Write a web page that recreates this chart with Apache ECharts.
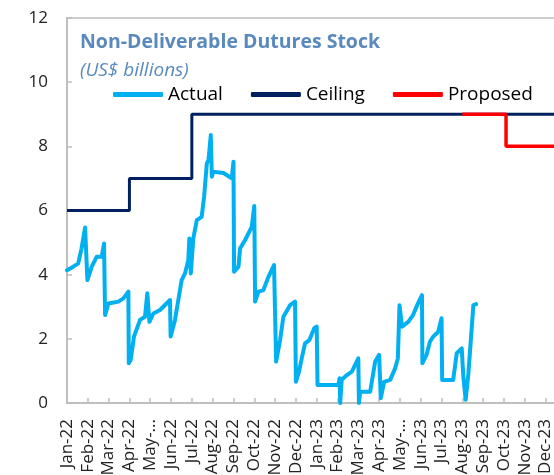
<!DOCTYPE html>
<html>
<head>
<meta charset="utf-8">
<title>Non-Deliverable Futures Stock</title>
<script src="https://cdn.jsdelivr.net/npm/echarts@6/dist/echarts.min.js"></script>
<style>
  html, body { margin: 0; padding: 0; background: #fff; }
  #chart { width: 554px; height: 475px; }
</style>
</head>
<body>
<div id="chart"></div>
<script>
// month tick labels, one per month starting Jan-22 (index 0)
var monthLabels = ['Jan-22', 'Feb-22', 'Mar-22', 'Apr-22', 'May-...', 'Jun-22', 'Jul-22', 'Aug-22',
  'Sep-22', 'Oct-22', 'Nov-22', 'Dec-22', 'Jan-23', 'Feb-23', 'Mar-23', 'Apr-23', 'May-...',
  'Jun-23', 'Jul-23', 'Aug-23', 'Sep-23', 'Oct-23', 'Nov-23', 'Dec-23'];

// actual stock, x in months since Jan-22
var actualMonths = [0.00, 0.30, 0.54, 0.70, 0.87, 0.98, 1.19, 1.43, 1.67, 1.78, 1.83, 1.99, 2.47, 2.71,
  2.95, 2.97, 3.06, 3.22, 3.51, 3.75, 3.86, 3.96, 4.15, 4.47, 4.95, 4.98, 5.19, 5.35, 5.51, 5.67,
  5.83, 5.88, 5.95, 6.07, 6.24, 6.47, 6.59, 6.72, 6.80, 6.91, 6.96, 7.03, 7.52, 7.92, 8.00, 8.03,
  8.24, 8.32, 8.56, 8.88, 9.00, 9.04, 9.20, 9.44, 9.68, 9.95, 10.05, 10.24, 10.40, 10.72, 10.96,
  11.00, 11.15, 11.28, 11.44, 11.65, 11.88, 12.00, 12.04, 13.04, 13.10, 13.13, 13.20, 13.45, 13.69,
  14.00, 14.03, 14.09, 14.57, 14.81, 15.00, 15.08, 15.24, 15.53, 15.77, 15.90, 15.98, 16.10, 16.40,
  16.63, 16.83, 17.06, 17.08, 17.28, 17.44, 17.60, 17.84, 18.00, 18.03, 18.56, 18.73, 18.97, 19.05,
  19.16, 19.29, 19.53, 19.66];
var actualValues = [4.14, 4.25, 4.35, 4.82, 5.47, 3.83, 4.25, 4.56, 4.56, 4.97, 2.74, 3.10, 3.16, 3.26,
  3.47, 1.24, 1.34, 2.07, 2.59, 2.69, 3.42, 2.53, 2.79, 2.90, 3.21, 2.07, 2.59, 3.21, 3.83, 4.04,
  4.45, 5.13, 4.04, 5.13, 5.70, 5.80, 6.43, 7.47, 7.57, 8.35, 7.05, 7.21, 7.17, 7.00, 7.52, 4.09,
  4.25, 4.82, 5.08, 5.49, 6.14, 3.16, 3.47, 3.52, 3.93, 4.30, 1.29, 1.96, 2.69, 3.05, 3.16,
  0.66, 0.98, 1.39, 1.86, 1.96, 2.33, 2.38, 0.56, 0.56, 0.77, 0.00, 0.72, 0.87, 0.98,
  1.39, 0.00, 0.35, 0.35, 1.29, 1.50, 0.15, 0.66, 0.72, 1.08, 1.39, 3.05, 2.38, 2.53,
  2.74, 3.05, 3.36, 1.24, 1.50, 1.91, 2.07, 2.22, 2.64, 0.72, 0.72, 1.55, 1.70, 0.80,
  0.10, 0.92, 3.05, 3.08];

// ceiling steps (value holds until next month)
var ceilingMonths = [0, 3, 6, 26];
var ceilingValues = [6, 7, 9, 9];

// proposed ceiling steps
var proposedMonths = [19, 21.1, 26];
var proposedValues = [9, 8, 8];

function pairs(xs, ys) {
  var out = [];
  for (var i = 0; i < xs.length; i++) out.push([xs[i], ys[i]]);
  return out;
}

var chart = echarts.init(document.getElementById('chart'));
var font = 'Open Sans';
var axisGray = '#bfbfbf';

chart.setOption({
  animation: false,
  textStyle: { fontFamily: font },
  title: {
    text: 'Non-Deliverable Dutures Stock',
    subtext: '(US$ billions)',
    left: 75,
    top: 27,
    itemGap: 9,
    textStyle: { fontSize: 19.5, fontWeight: 'bold', color: '#5a89bd', fontFamily: font },
    subtextStyle: { fontSize: 19, fontStyle: 'italic', color: '#5a89bd', fontFamily: font }
  },
  legend: {
    left: 108,
    top: 80,
    icon: 'roundRect',
    itemWidth: 50,
    itemHeight: 5,
    itemGap: 28,
    textStyle: { fontSize: 19, color: '#000', fontFamily: font },
    data: ['Actual', 'Ceiling', 'Proposed']
  },
  grid: {
    left: 67, top: 18, height: 385, width: 541,
    outerBoundsMode: 'none',
    containLabel: false,
    show: true, borderColor: axisGray, borderWidth: 1.5
  },
  xAxis: {
    type: 'value',
    min: 0, max: 26, interval: 1,
    axisLine: { show: true, lineStyle: { color: axisGray, width: 2 } },
    axisTick: { show: true, inside: true, length: 5, lineStyle: { color: axisGray, width: 1.5 } },
    splitLine: { show: false },
    axisLabel: {
      rotate: 90, margin: 16, fontSize: 17, color: '#222', fontFamily: font,
      formatter: function (v) { return monthLabels[Math.round(v)] || ''; }
    }
  },
  yAxis: {
    type: 'value',
    min: 0, max: 12, interval: 2,
    axisLine: { show: true, lineStyle: { color: axisGray, width: 2 } },
    axisTick: { show: true, inside: true, length: 5, lineStyle: { color: axisGray, width: 1.5 } },
    splitLine: { show: false },
    axisLabel: { margin: 19, fontSize: 17, color: '#222', fontFamily: font }
  },
  series: [
    {
      name: 'Actual', type: 'line', showSymbol: false,
      data: pairs(actualMonths, actualValues),
      itemStyle: { color: '#00b0f0' },
      lineStyle: { color: '#00b0f0', width: 4, cap: 'round', join: 'round' }
    },
    {
      name: 'Ceiling', type: 'line', step: 'end', showSymbol: false,
      data: pairs(ceilingMonths, ceilingValues),
      itemStyle: { color: '#002060' },
      lineStyle: { color: '#002060', width: 3 }
    },
    {
      name: 'Proposed', type: 'line', step: 'end', showSymbol: false,
      data: pairs(proposedMonths, proposedValues),
      itemStyle: { color: '#ff0000' },
      lineStyle: { color: '#ff0000', width: 3.5 }
    }
  ]
});
</script>
</body>
</html>
